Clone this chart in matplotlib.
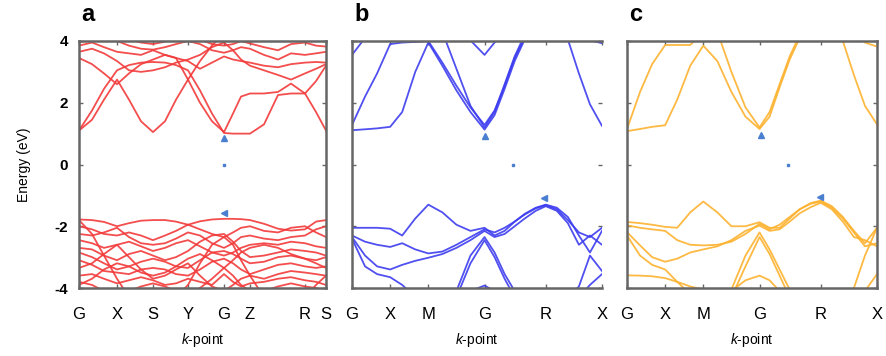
import matplotlib
matplotlib.use("Agg")
import matplotlib.pyplot as plt
import numpy as np

plt.rcParams['font.family'] = ['Liberation Sans', 'DejaVu Sans']
plt.rcParams['mathtext.fontset'] = 'custom'
plt.rcParams['mathtext.it'] = 'Liberation Sans:italic'
plt.rcParams['mathtext.rm'] = 'Liberation Sans'

# ---- panel a: k-path G X S Y G Z R S ----
k_a = [0, 13, 25, 38, 50, 62, 74, 86, 97, 109, 121, 133, 145, 154, 162, 171, 185, 199, 212, 226, 237, 247]
ticks_a = [0, 38, 74, 109, 145, 171, 226, 247]
labels_a = ['G', 'X', 'S', 'Y', 'G', 'Z', 'R', 'S']

cond_a = [
    [1.10, 1.75, 2.45, 3.05, 3.22, 3.30, 3.32, 3.30, 3.22, 3.05, 2.40, 1.65, 1.02, 1.00, 1.00, 1.00, 1.30, 2.25, 2.30, 2.30, 1.70, 1.10],
    [1.10, 1.45, 2.10, 2.75, 2.10, 1.40, 1.05, 1.40, 2.10, 2.75, 3.35, 3.85, 4.30, 4.30, 4.30, 4.30, 4.30, 4.30, 4.30, 4.30, 4.30, 4.30],
    [3.45, 3.25, 2.95, 2.60, 2.95, 3.25, 3.40, 3.55, 3.45, 2.75, 2.00, 1.40, 1.05, 1.65, 2.20, 2.30, 2.30, 2.35, 2.62, 2.30, 2.70, 3.20],
    [3.65, 3.75, 3.60, 3.35, 3.05, 3.00, 3.05, 3.15, 3.30, 3.40, 3.55, 3.80, 3.95, 3.70, 3.40, 3.20, 3.05, 2.90, 2.75, 2.95, 3.10, 3.25],
    [3.85, 3.95, 3.80, 3.65, 3.60, 3.55, 3.70, 3.55, 3.45, 3.35, 3.10, 3.30, 3.50, 3.40, 3.35, 3.30, 3.20, 3.15, 3.25, 3.30, 3.32, 3.30],
    [3.95, 4.10, 4.20, 4.00, 3.85, 3.75, 3.72, 3.80, 3.90, 4.00, 3.90, 3.70, 3.62, 3.70, 3.80, 3.75, 3.55, 3.40, 3.60, 3.55, 3.60, 3.65],
    [4.30, 4.30, 4.30, 4.20, 4.05, 3.95, 3.90, 3.98, 4.10, 4.20, 4.05, 3.90, 3.85, 3.90, 4.00, 3.92, 3.80, 3.70, 3.90, 3.95, 3.85, 3.82],
]
val_a = [
    [-1.78, -1.80, -1.86, -2.00, -1.90, -1.82, -1.80, -1.80, -1.85, -1.95, -1.84, -1.78, -1.76, -1.76, -1.77, -1.80, -1.92, -2.08, -2.14, -2.10, -1.85, -1.80],
    [-2.00, -2.10, -2.25, -2.30, -2.20, -2.30, -2.45, -2.30, -2.15, -1.95, -2.10, -2.25, -2.35, -2.20, -2.05, -2.00, -2.15, -2.20, -2.05, -2.00, -2.20, -2.35],
    [-2.25, -2.30, -2.20, -2.05, -2.35, -2.55, -2.60, -2.55, -2.40, -2.20, -2.30, -2.55, -2.70, -2.55, -2.35, -2.30, -2.40, -2.45, -2.35, -2.30, -2.10, -2.00],
    [-2.45, -2.55, -2.70, -2.60, -2.50, -2.65, -2.80, -2.70, -2.55, -2.45, -2.65, -2.85, -2.95, -2.85, -2.70, -2.60, -2.55, -2.60, -2.50, -2.55, -2.65, -2.70],
    [-2.70, -2.75, -2.95, -3.10, -2.90, -2.80, -2.95, -3.10, -3.00, -2.80, -2.50, -2.30, -2.25, -2.50, -2.80, -3.00, -2.95, -2.85, -2.75, -2.80, -2.85, -2.95],
    [-2.85, -3.00, -3.20, -3.40, -3.30, -3.15, -3.05, -3.15, -3.30, -3.35, -3.10, -2.85, -2.80, -2.90, -3.05, -3.20, -3.15, -3.00, -2.95, -3.05, -3.10, -3.00],
    [-3.10, -3.25, -3.45, -3.50, -3.55, -3.40, -3.35, -3.40, -3.55, -3.60, -3.40, -3.15, -3.05, -3.20, -3.40, -3.55, -3.40, -3.25, -3.20, -3.30, -3.35, -3.30],
    [-3.35, -3.20, -2.90, -2.60, -3.00, -3.40, -3.70, -3.60, -3.40, -3.20, -3.60, -3.95, -4.10, -3.90, -3.70, -3.60, -3.70, -3.55, -3.45, -3.50, -3.55, -3.60],
    [-3.60, -3.55, -3.70, -3.85, -3.75, -3.65, -3.75, -3.90, -3.85, -3.70, -3.80, -3.90, -3.55, -3.80, -3.95, -3.85, -3.80, -3.70, -3.65, -3.75, -3.80, -3.90],
    [-3.80, -3.90, -4.10, -4.20, -4.10, -3.95, -3.85, -3.95, -4.10, -4.20, -4.00, -3.70, -3.35, -3.60, -3.90, -4.10, -4.10, -3.95, -3.85, -3.95, -4.00, -4.10],
    [-1.80, -2.25, -2.95, -3.70, -4.30, -4.30, -4.30, -4.30, -4.30, -3.90, -3.20, -2.60, -2.35, -2.60, -3.10, -3.60, -4.30, -4.30, -4.30, -4.30, -3.90, -3.60],
    [-3.90, -3.70, -3.40, -3.20, -3.30, -3.50, -3.60, -3.50, -3.30, -3.05, -2.90, -3.10, -3.35, -3.10, -2.85, -2.70, -2.60, -2.70, -2.90, -3.05, -3.20, -3.35],
]

# ---- panels b and c: k-path G X M G R X ----
k_bc = [0, 13, 25, 38, 50, 63, 76, 90, 104, 118, 132, 142, 152, 162, 172, 183, 193, 204, 215, 226, 237, 249]
ticks_bc = [0, 38, 76, 132, 193, 249]
labels_bc = ['G', 'X', 'M', 'G', 'R', 'X']

cond_b = [
    [1.28, 2.20, 2.95, 3.90, 3.95, 3.97, 4.00, 3.30, 2.55, 1.85, 1.28, 1.75, 2.55, 3.45, 4.10, 4.30, 4.30, 4.30, 4.05, 2.95, 1.95, 1.25],
    [1.11, 1.14, 1.17, 1.22, 1.70, 3.00, 3.95, 3.20, 2.40, 1.70, 1.13, 1.60, 2.45, 3.35, 4.05, 4.30, 4.30, 4.30, 4.30, 4.30, 4.30, 4.30],
    [4.30, 4.30, 4.30, 4.30, 4.30, 4.30, 4.30, 4.30, 3.10, 1.90, 1.20, 1.70, 2.60, 3.50, 4.20, 4.30, 4.30, 4.30, 4.30, 4.30, 4.30, 4.30],
    [3.55, 4.10, 4.30, 4.30, 4.30, 4.30, 4.30, 4.30, 4.30, 4.30, 4.30, 4.30, 4.30, 4.30, 4.30, 4.30, 4.30, 4.30, 4.30, 4.30, 4.30, 4.30],
    [4.30, 4.30, 4.30, 4.30, 4.30, 4.30, 4.30, 4.30, 4.30, 4.02, 3.55, 3.95, 4.30, 4.30, 4.30, 4.30, 4.30, 4.30, 4.30, 4.30, 4.30, 4.30],
    [4.30, 4.30, 4.30, 4.30, 4.30, 4.30, 4.30, 4.30, 4.30, 4.30, 4.30, 4.30, 4.30, 4.30, 4.30, 4.30, 4.30, 4.30, 4.30, 4.30, 4.02, 3.93],
]
val_b = [
    [-2.05, -2.05, -2.05, -2.08, -2.30, -1.75, -1.30, -1.55, -1.95, -2.15, -2.05, -2.30, -2.15, -1.85, -1.60, -1.40, -1.30, -1.40, -1.70, -2.30, -2.85, -2.15],
    [-2.30, -2.50, -2.60, -2.67, -2.55, -2.75, -2.88, -2.82, -2.60, -2.35, -2.10, -2.20, -2.05, -1.85, -1.62, -1.42, -1.32, -1.45, -1.80, -2.20, -2.35, -2.05],
    [-2.35, -2.95, -3.30, -3.40, -3.25, -3.12, -3.02, -2.90, -2.70, -2.45, -2.15, -2.35, -2.25, -2.00, -1.75, -1.50, -1.35, -1.50, -1.90, -2.60, -2.30, -2.60],
    [-2.40, -3.30, -3.55, -3.65, -3.90, -4.30, -4.30, -4.30, -4.30, -4.30, -4.30, -4.30, -4.30, -4.30, -4.30, -4.30, -4.30, -4.30, -4.30, -4.30, -4.30, -4.30],
    [-4.30, -4.30, -4.30, -4.30, -4.30, -4.30, -4.30, -4.30, -4.10, -2.95, -2.35, -2.85, -3.55, -4.10, -4.30, -4.30, -4.30, -4.30, -4.30, -4.30, -4.30, -4.30],
    [-4.30, -4.30, -4.30, -4.30, -4.30, -4.30, -4.30, -4.30, -4.30, -3.20, -2.45, -3.00, -3.70, -4.30, -4.30, -4.30, -4.30, -4.30, -4.30, -4.30, -4.30, -4.30],
    [-4.30, -4.30, -4.30, -4.30, -4.30, -4.30, -4.30, -4.30, -4.30, -4.30, -4.30, -4.30, -4.30, -4.30, -4.30, -4.30, -4.30, -4.30, -4.30, -3.95, -2.95, -3.45],
    [-4.30, -4.30, -4.30, -4.30, -4.30, -4.30, -4.30, -4.30, -4.30, -4.30, -4.30, -4.30, -4.30, -4.30, -4.30, -4.30, -4.30, -4.30, -4.30, -4.30, -3.90, -3.55],
    [-4.30, -4.30, -4.30, -4.30, -4.30, -4.30, -4.30, -4.30, -4.30, -4.10, -3.92, -4.10, -4.30, -4.30, -4.30, -4.30, -4.30, -4.30, -4.30, -4.30, -4.30, -4.30],
]

cond_c = [
    [1.15, 2.35, 3.25, 3.87, 3.87, 3.87, 4.30, 4.30, 4.30, 4.30, 4.30, 4.30, 4.30, 4.30, 4.30, 4.30, 4.30, 4.30, 4.30, 4.30, 4.30, 4.30],
    [1.08, 1.15, 1.22, 1.27, 2.10, 3.20, 3.85, 3.35, 2.35, 1.55, 1.15, 1.55, 2.50, 3.40, 4.10, 4.30, 4.30, 4.30, 4.30, 4.30, 4.30, 4.30],
    [4.30, 4.30, 4.30, 4.30, 4.30, 4.30, 4.30, 4.30, 3.00, 1.85, 1.20, 1.70, 2.60, 3.50, 4.20, 4.30, 4.30, 4.30, 4.30, 4.30, 4.30, 4.30],
    [4.30, 4.30, 4.30, 4.30, 4.30, 4.30, 4.30, 4.30, 4.30, 4.30, 4.30, 4.30, 4.30, 4.30, 4.30, 4.30, 4.30, 4.30, 4.00, 2.90, 1.90, 1.30],
    [4.30, 4.30, 4.30, 4.30, 4.30, 4.30, 4.30, 4.30, 4.30, 4.30, 4.30, 4.30, 4.30, 4.30, 4.30, 4.30, 4.30, 4.30, 4.30, 4.30, 3.95, 3.82],
]
val_c = [
    [-1.86, -1.90, -1.95, -2.02, -2.05, -1.55, -1.20, -1.55, -2.00, -2.00, -1.87, -2.05, -2.05, -1.75, -1.45, -1.25, -1.17, -1.35, -1.70, -2.15, -2.55, -2.05],
    [-1.97, -2.05, -2.10, -2.15, -2.45, -2.60, -2.62, -2.60, -2.50, -2.25, -1.92, -2.10, -1.95, -1.70, -1.45, -1.27, -1.20, -1.40, -1.75, -2.20, -2.65, -2.55],
    [-2.19, -2.62, -3.00, -3.15, -3.05, -2.85, -2.75, -2.65, -2.45, -2.15, -1.98, -2.15, -2.10, -1.85, -1.58, -1.38, -1.24, -1.45, -1.85, -2.35, -2.45, -2.65],
    [-2.30, -2.95, -3.25, -3.40, -3.80, -4.20, -4.30, -4.30, -4.30, -4.30, -4.30, -4.30, -4.30, -4.30, -4.30, -4.30, -4.30, -4.30, -4.30, -4.30, -4.30, -4.30],
    [-3.59, -3.60, -3.62, -3.68, -3.80, -3.95, -4.05, -4.30, -4.30, -4.30, -4.30, -4.30, -4.30, -4.30, -4.30, -4.30, -4.30, -4.30, -4.30, -4.30, -4.30, -4.30],
    [-4.30, -4.30, -4.30, -4.30, -4.30, -4.30, -4.30, -4.30, -4.10, -3.75, -3.60, -3.75, -4.10, -4.30, -4.30, -4.30, -4.30, -4.30, -4.30, -4.30, -4.30, -4.30],
    [-4.30, -4.30, -4.30, -4.30, -4.30, -4.30, -4.30, -4.30, -4.05, -2.95, -2.20, -2.75, -3.40, -4.05, -4.30, -4.30, -4.30, -4.30, -4.30, -4.30, -4.30, -4.30],
    [-4.30, -4.30, -4.30, -4.30, -4.30, -4.30, -4.30, -4.30, -4.30, -3.30, -2.35, -2.90, -3.60, -4.30, -4.30, -4.30, -4.30, -4.30, -4.30, -4.30, -4.30, -4.30],
    [-4.30, -4.30, -4.30, -4.30, -4.30, -4.30, -4.30, -4.30, -4.30, -4.30, -4.30, -4.30, -4.30, -4.30, -4.30, -4.30, -4.30, -4.30, -4.30, -4.00, -2.95, -2.05],
    [-4.30, -4.30, -4.30, -4.30, -4.30, -4.30, -4.30, -4.30, -4.30, -4.30, -4.30, -4.30, -4.30, -4.30, -4.30, -4.30, -4.30, -4.30, -4.30, -4.30, -4.10, -3.55],
]

# band-edge markers (k, E)
cbm_k = [145, 132, 133]
cbm_e = [0.86, 0.91, 0.95]
vbm_k = [145, 191, 192]
vbm_e = [-1.57, -1.08, -1.05]
ef_k = [145, 160, 160]

colors = ['#f23a3a', '#3d3df0', '#fdb22e']
panel_names = ['a', 'b', 'c']

fig = plt.figure(figsize=(8.86, 3.56), dpi=100)
lefts = [79 / 886, 352 / 886, 627 / 886]
widths = [247 / 886, 250 / 886, 250 / 886]
bottom = 1 - 288 / 356
height = 247 / 356

panels = [
    (k_a, ticks_a, labels_a, cond_a, val_a),
    (k_bc, ticks_bc, labels_bc, cond_b, val_b),
    (k_bc, ticks_bc, labels_bc, cond_c, val_c),
]

for i, (kk, tk, tl, cb, vb) in enumerate(panels):
    ax = fig.add_axes([lefts[i], bottom, widths[i], height])
    for band in cb + vb:
        ax.plot(kk, band, color=colors[i], lw=1.3, alpha=0.9, solid_joinstyle='round')
    ax.plot(cbm_k[i], cbm_e[i], marker='^', ms=4, color='#4a7fd0', ls='none')
    ax.plot(vbm_k[i], vbm_e[i], marker='<', ms=4, color='#4a7fd0', ls='none')
    ax.plot(ef_k[i], 0, marker='s', ms=1.5, color='#4a7fd0', ls='none')
    ax.set_xlim(kk[0], kk[-1])
    ax.set_ylim(-4, 4)
    ax.set_xticks(tk)
    ax.set_xticklabels(tl, fontsize=12)
    ax.set_yticks([-4, -2, 0, 2, 4])
    if i == 0:
        ax.set_yticklabels(['-4', '-2', '0', '2', '4'], fontsize=11, fontweight='bold')
        ax.set_ylabel('Energy (eV)', fontsize=10, labelpad=17)
    else:
        ax.set_yticklabels([])
    ax.tick_params(direction='in', top=True, right=True, length=3, width=1,
                   color='#666666', pad=14)
    ax.tick_params(axis='y', pad=8)
    for s in ax.spines.values():
        s.set_color('#666666')
        s.set_linewidth(1.8)
    if i == 1:
        ax.spines['right'].set_visible(False)
    ax.set_xlabel('$k$-point', fontsize=10, labelpad=6)
    ax.text(0.01, 1.06, panel_names[i], transform=ax.transAxes, fontsize=17,
            fontweight='bold', va='bottom', ha='left')

fig.savefig('out.png', dpi=100)
